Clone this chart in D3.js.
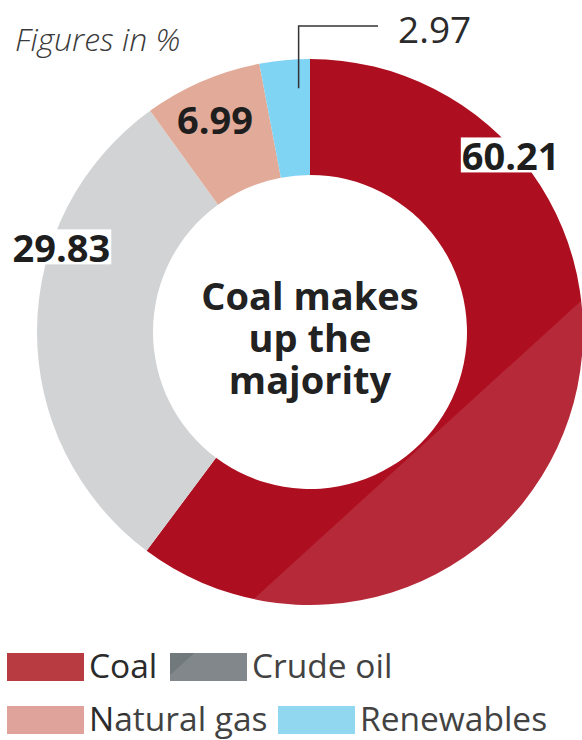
<!DOCTYPE html>
<html>
<head>
<meta charset="utf-8">
<script src="https://cdn.jsdelivr.net/npm/d3@7"></script>
<style>
  body { margin: 0; background: #fff; }
  svg { display: block; font-family: "Open Sans", "Noto Sans", sans-serif; }
</style>
</head>
<body>
<div id="chart"></div>
<script>
// data (shares of energy mix, %)
var categories = ["Coal", "Crude oil", "Natural gas", "Renewables"];
var shares = [60.21, 29.83, 6.99, 2.97];
var sliceColors = ["#ae0f20", "#d2d3d5", "#e2aa98", "#7fd3f3"];
var legendColors = ["#b73b40", "#72797c", "#e0a39b", "#84d2ee"];
var centerLines = ["Coal makes", "up the", "majority"];

var W = 582, H = 740;
var cx = 310, cy = 332, outerR = 273, innerR = 157;

var svg = d3.select("#chart").append("svg")
    .attr("width", W)
    .attr("height", H);

var data = categories.map(function (c, i) {
    return { name: c, value: shares[i], color: sliceColors[i], legend: legendColors[i] };
});

var pie = d3.pie().sort(null).value(function (d) { return d.value; });
var arcs = pie(data);
var arc = d3.arc().innerRadius(innerR).outerRadius(outerR);

var g = svg.append("g").attr("transform", "translate(" + cx + "," + cy + ")");

g.selectAll("path.slice")
    .data(arcs)
    .enter().append("path")
    .attr("class", "slice")
    .attr("d", arc)
    .attr("fill", function (d) { return d.data.color; });

// legend (2 rows)
var legendRows = [[0, 1], [2, 3]];
var legendX = [[7, 170], [7, 278]];
var legendY = [653, 706];
var legend = svg.append("g").attr("class", "legend");
legendRows.forEach(function (row, r) {
    row.forEach(function (idx, k) {
        legend.append("rect")
            .attr("x", legendX[r][k])
            .attr("y", legendY[r])
            .attr("width", 77)
            .attr("height", 28)
            .attr("fill", data[idx].legend);
    });
});

// light watermark band (lower right) like the source picture
svg.append("path")
    .attr("d", "M0,830 L582,300 L582,740 L0,740 Z")
    .attr("fill", "#fff")
    .attr("opacity", 0.11);

legendRows.forEach(function (row, r) {
    row.forEach(function (idx, k) {
        legend.append("text")
            .attr("x", legendX[r][k] + 82)
            .attr("y", legendY[r] + 25)
            .attr("font-size", 33.5)
            .attr("fill", "#2b2b2b")
            .text(categories[idx]);
    });
});

// helper: point on the ring at a given fraction of a slice
function polar(d, frac, r) {
    var a = d.startAngle + frac * (d.endAngle - d.startAngle);
    return [cx + r * Math.sin(a), cy - r * Math.cos(a)];
}

var fmt = d3.format(".2f");

// value labels placed near the outer rim
var labelLayout = [
    { frac: 0.226, r: 266, box: true },
    { frac: 0.667, r: 262, box: true },
    { frac: 0.46, r: 231, box: false }
];
labelLayout.forEach(function (L, i) {
    var p = polar(arcs[i], L.frac, L.r);
    var lg = svg.append("g");
    var t = lg.append("text")
        .attr("x", p[0])
        .attr("y", p[1] + 13)
        .attr("text-anchor", "middle")
        .attr("font-size", 38)
        .attr("font-weight", 700)
        .attr("fill", "#1e1e1e")
        .text(fmt(shares[i]));
    if (L.box) {
        var bb = t.node().getBBox();
        lg.insert("rect", "text")
            .attr("x", bb.x - 1)
            .attr("y", p[1] + 13 - 33)
            .attr("width", bb.width + 2)
            .attr("height", 35)
            .attr("fill", "#fff");
    }
});

// renewables: leader line to a label above the chart
var rp = polar(arcs[3], 0.75, 244);
var elbowY = 26;
svg.append("path")
    .attr("d", "M" + rp[0] + "," + rp[1] + " V" + elbowY + " H378")
    .attr("fill", "none")
    .attr("stroke", "#333")
    .attr("stroke-width", 1.5);
svg.append("text")
    .attr("x", 398)
    .attr("y", 43)
    .attr("font-size", 37)
    .attr("font-weight", 400)
    .attr("fill", "#2b2b2b")
    .text(fmt(shares[3]));

// note
svg.append("text")
    .attr("x", 15)
    .attr("y", 51)
    .attr("font-size", 32)
    .attr("font-style", "italic")
    .attr("font-weight", 300)
    .attr("fill", "#3a3a3a")
    .text("Figures in %");

// centre headline
svg.append("text")
    .attr("text-anchor", "middle")
    .attr("font-size", 38)
    .attr("font-weight", 700)
    .attr("fill", "#222")
    .selectAll("tspan")
    .data(centerLines)
    .enter().append("tspan")
    .attr("x", cx)
    .attr("y", function (d, i) { return 310 + i * 42; })
    .text(function (d) { return d; });
</script>
</body>
</html>
